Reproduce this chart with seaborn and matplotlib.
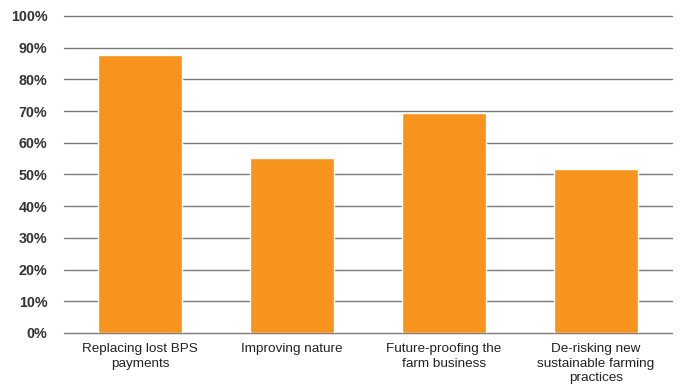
import matplotlib
matplotlib.use("Agg")
import matplotlib.pyplot as plt
import seaborn as sns
import pandas as pd

categories = [
    "Replacing lost BPS\npayments",
    "Improving nature",
    "Future-proofing the\nfarm business",
    "De-risking new\nsustainable farming\npractices",
]
values = [87.6, 55.2, 69.3, 51.7]
y_ticks = [0, 10, 20, 30, 40, 50, 60, 70, 80, 90, 100]
y_tick_labels = [f"{t}%" for t in y_ticks]

sns.set_theme(style="white")
plt.rcParams["font.family"] = ["Liberation Sans", "DejaVu Sans"]

df = pd.DataFrame({"category": categories, "value": values})

fig = plt.figure(figsize=(6.83, 3.89), dpi=100)
ax = fig.add_axes([0.0937, 0.144, 0.890, 0.815])

for t in y_ticks:
    ax.axhline(t, color="#7a7a7a", lw=1.0, zorder=0, clip_on=False)

sns.barplot(data=df, x="category", y="value", color="#F7941D",
            width=0.55, saturation=1, ax=ax, zorder=2)

ax.set_ylim(0, 100)
ax.set_xlim(-0.5, 3.5)
ax.set_yticks(y_ticks)
ax.set_yticklabels(y_tick_labels, fontsize=10.3, fontweight="bold", color="#333333")
ax.tick_params(axis="x", labelsize=9.7, colors="#222222", length=0, pad=7)
ax.tick_params(axis="y", length=0, pad=12)
for lbl in ax.get_xticklabels():
    lbl.set_verticalalignment("top")
    lbl.set_linespacing(1.32)
ax.set_xlabel("")
ax.set_ylabel("")
for s in ax.spines.values():
    s.set_visible(False)
ax.grid(False)

fig.savefig("out.png", dpi=100)
